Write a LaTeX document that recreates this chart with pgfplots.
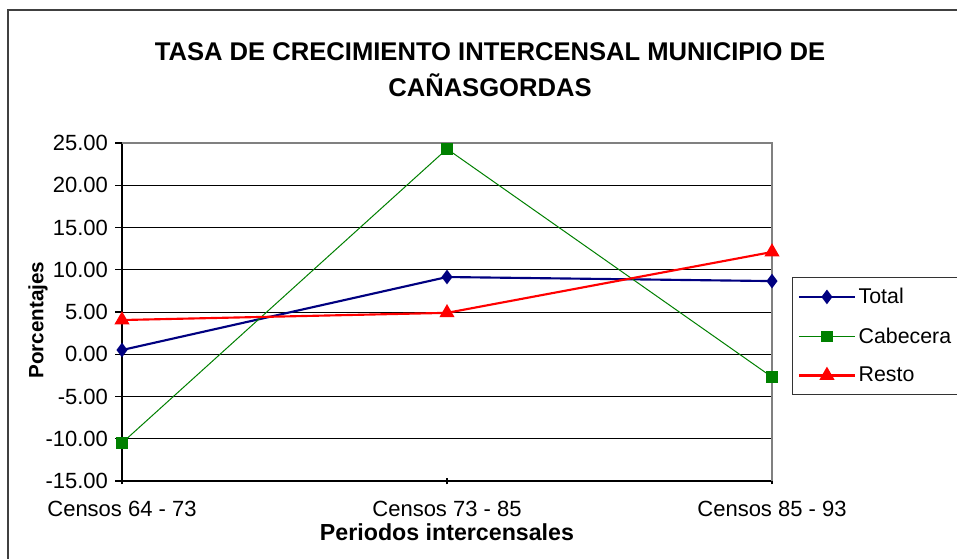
\documentclass[border=0pt]{standalone}
\usepackage{pgfplots}
\pgfplotsset{compat=1.18}
\usepackage{fontspec}
\setmainfont{Liberation Sans}
\definecolor{cTotal}{RGB}{0,0,128}
\definecolor{cCab}{RGB}{0,128,0}
\definecolor{cResto}{RGB}{255,0,0}
\begin{document}
\begin{tikzpicture}
\path[use as bounding box] (0,0) rectangle (717.75pt,418.5pt);
\fill[white] (0,0) rectangle (717.75pt,418.5pt);
% outer frame (cut at right and bottom)
\draw[black!75, line width=0.8pt] (6pt,-5pt) -- (6pt,411pt) -- (730pt,411pt);
\node[font=\fontsize{19.2}{27}\selectfont\bfseries, align=center] at (367.5pt,366pt)
  {TASA DE CRECIMIENTO INTERCENSAL MUNICIPIO DE\\CAÑASGORDAS};
\begin{axis}[
  at={(91.5pt,57.75pt)}, anchor=south west,
  scale only axis, width=487.5pt, height=253.5pt,
  xmin=0, xmax=2, ymin=-15, ymax=25,
  xtick={0,1,2},
  xticklabels={Censos 64 - 73, Censos 73 - 85, Censos 85 - 93},
  ytick={-15,-10,...,25},
  axis x line*=bottom, axis y line*=left,
  axis line style={black, line width=0.9pt, -},
  ymajorgrids, grid style={black, line width=0.6pt},
  major tick length=5pt,
  xtick align=center, ytick align=outside,
  tick style={black, line width=0.8pt},
  tick label style={font=\fontsize{16.5}{18}\selectfont},
  /pgf/number format/assume math mode=true,
  yticklabel={\pgfmathprintnumber[fixed,fixed zerofill,precision=2]{\tick}},
  xticklabel style={yshift=-9pt},
  yticklabel style={xshift=-2pt},
  xlabel={Periodos intercensales},
  ylabel={Porcentajes},
  xlabel style={at={(axis description cs:0.5,-0.151)}, anchor=center,
    font=\fontsize{17.4}{18}\selectfont\bfseries},
  ylabel style={at={(axis description cs:-0.129,0.476)}, anchor=center,
    font=\fontsize{15.5}{18}\selectfont\bfseries},
  legend style={at={(rel axis cs:1.0308,0.6036)}, anchor=north west,
    draw=black!80, line width=0.8pt, fill=white,
    font=\fontsize{16}{18}\selectfont,
    row sep=12.5pt, inner xsep=4pt, inner ysep=6pt},
  legend cell align=left,
  legend image code/.code={%
    \draw[mark repeat=2, mark phase=2] plot coordinates {(0pt,0pt) (21pt,0pt) (42pt,0pt)};},
  clip=false,
]
\draw[black!50, line width=1.5pt] (rel axis cs:0,1) -- (rel axis cs:1,1) -- (rel axis cs:1,0);
\addplot[cTotal, line width=1.6pt, mark=diamond*, mark size=4.2pt, mark options={solid, fill=cTotal}]
  coordinates {(0,0.50) (1,9.14) (2,8.66)};
\addplot[cCab, line width=0.75pt, mark=square*, mark size=4pt, mark options={solid, fill=cCab}]
  coordinates {(0,-10.50) (1,24.30) (2,-2.70)};
\addplot[cResto, line width=1.6pt, mark=triangle*, mark size=5pt, mark options={solid, fill=cResto}]
  coordinates {(0,4.05) (1,4.90) (2,12.10)};
\legend{Total, Cabecera\hspace{10pt}, Resto}
\end{axis}
\end{tikzpicture}
\end{document}
